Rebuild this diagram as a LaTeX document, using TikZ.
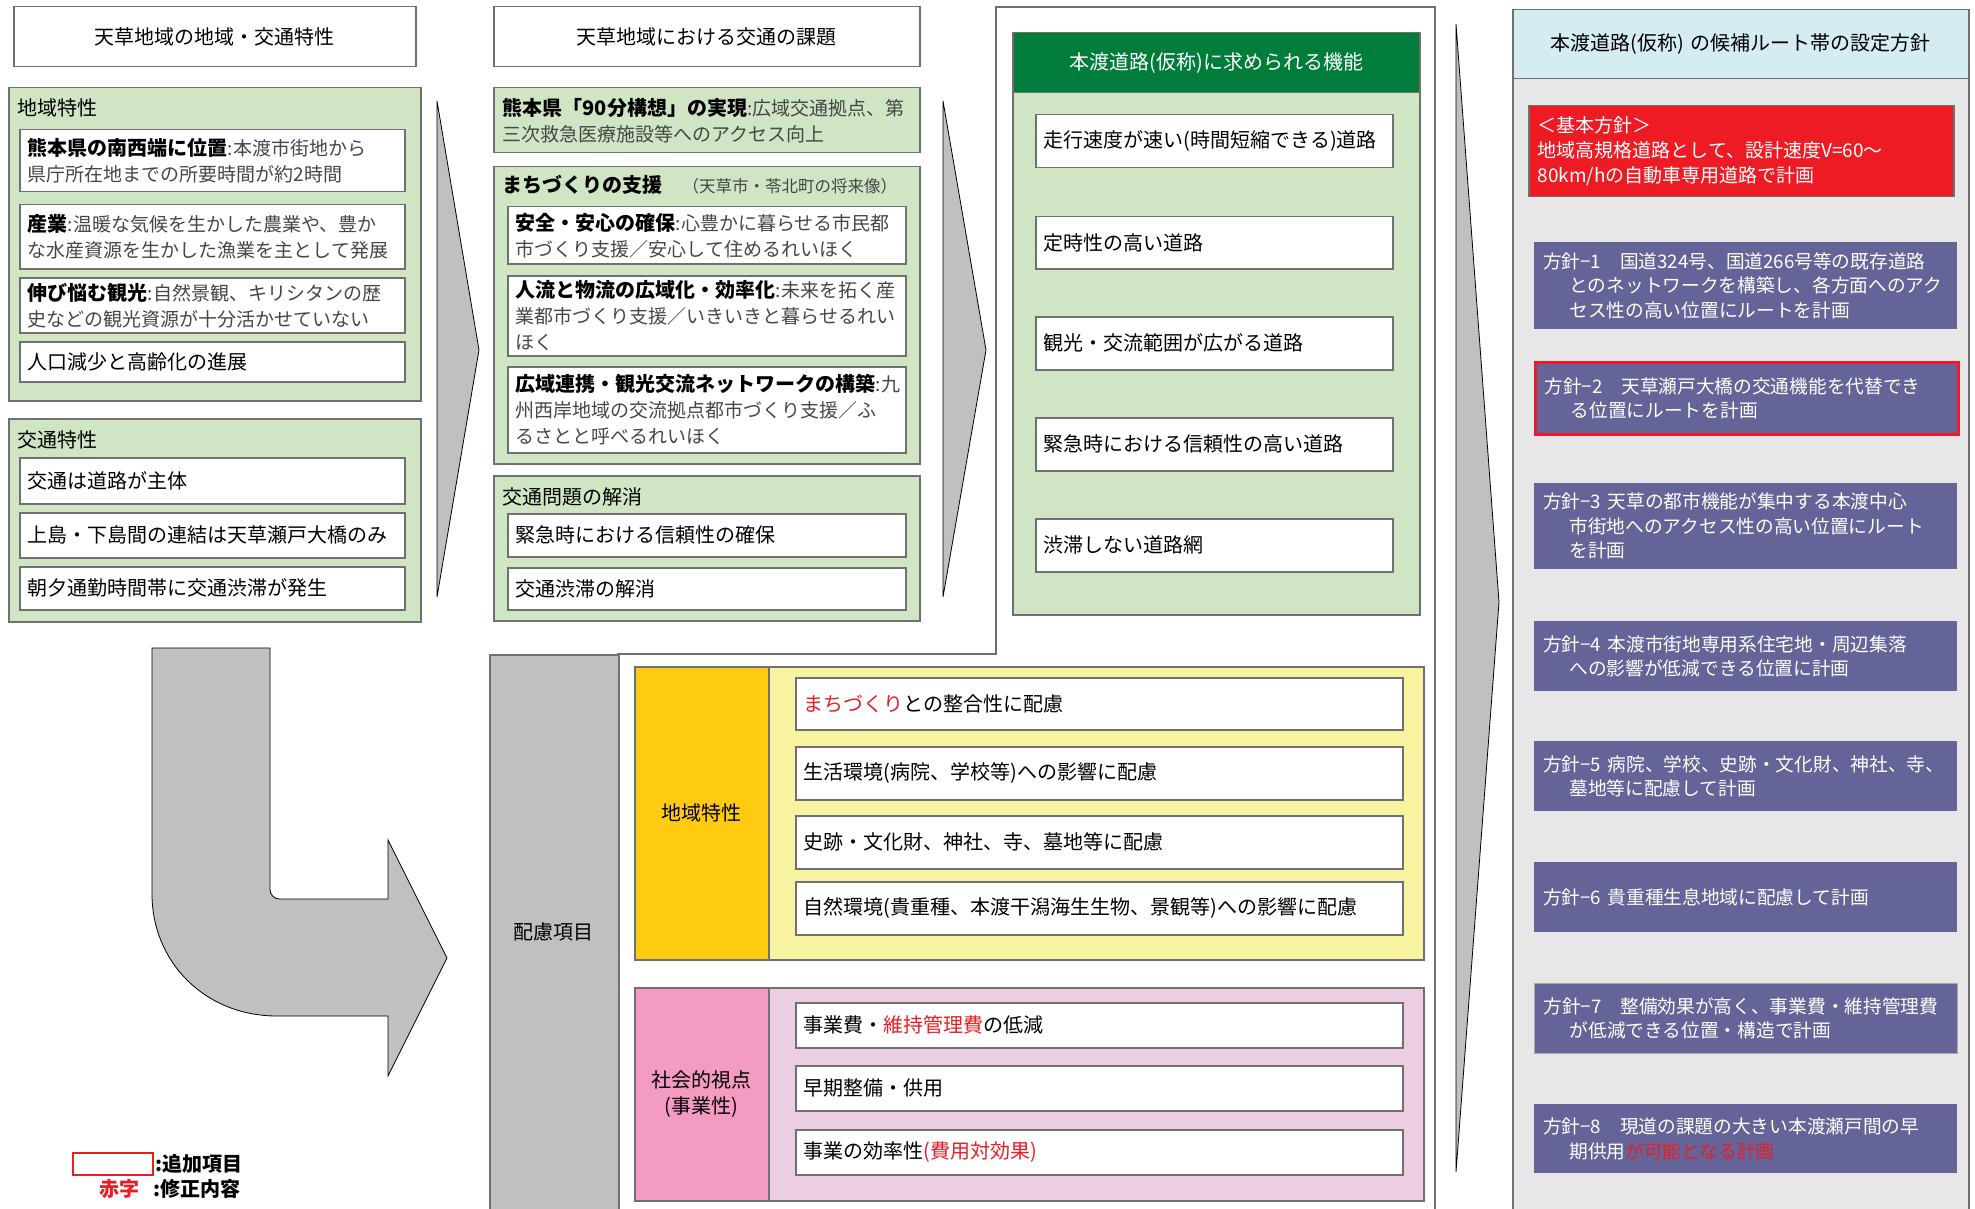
\documentclass[tikz,border=0pt]{standalone}
\usepackage{fontspec}
\setmainfont{Noto Sans CJK JP}
\usepackage{tikz}

\definecolor{boxgreen}{RGB}{208,229,196}
\definecolor{darkgreen}{RGB}{0,125,58}
\definecolor{edgegray}{RGB}{112,112,112}
\definecolor{arrowgray}{RGB}{192,192,192}
\definecolor{descgray}{RGB}{70,70,70}
\definecolor{orangeband}{RGB}{255,203,17}
\definecolor{paleyellow}{RGB}{248,243,161}
\definecolor{pinkband}{RGB}{243,155,194}
\definecolor{palepink}{RGB}{237,205,226}
\definecolor{paleblue}{RGB}{212,236,242}
\definecolor{panelgray}{RGB}{231,231,231}
\definecolor{policyblue}{RGB}{100,100,153}
\definecolor{alertred}{RGB}{237,28,36}

\newcommand{\desc}[1]{{\fontsize{19}{26}\selectfont\textcolor{descgray}{#1}}}
\newcommand{\redtext}[1]{\textcolor{alertred}{#1}}

\tikzset{
  base/.style={font=\fontsize{20}{26}\selectfont},
  cell/.style n args={3}{base, draw=edgegray, line width=1.5pt, fill=#3,
    anchor=north west, minimum width=#1, minimum height=#2,
    text width=#1-16, inner xsep=8pt, inner ysep=0pt, align=left},
  titlecell/.style n args={3}{cell={#1}{#2}{#3}, align=center},
  frame/.style n args={2}{draw=edgegray, line width=1.5pt, fill=#2,
    anchor=north west, minimum width=#1, inner sep=0pt},
  policy/.style n args={2}{font=\fontsize{18.7}{24.5}\selectfont, fill=policyblue,
    text=white, anchor=north west, minimum width=423, minimum height=#1,
    text width=405, inner xsep=9pt, inner ysep=0pt, align=left, #2},
  chevron/.style={draw=black, line width=0.8pt, fill=arrowgray}
}

\begin{document}
\begin{tikzpicture}[x=1pt,y=-1pt]
    \useasboundingbox (0,0) rectangle (1975,1209);

    % Draw left column
    \node[titlecell={402}{60}{white}] (leftTitle) at (13,6) {天草地域の地域・交通特性};
    \node[frame={412}{boxgreen}, minimum height=313] (regionFrame) at (8,87) {};
    \node[base, anchor=west] (regionLbl) at (14,108) {地域特性};
    \node[cell={385}{62}{white}] (regionA) at (19,129)
      {\textbf{熊本県の南西端に位置}\desc{:本渡市街地から}\\\desc{県庁所在地までの所要時間が約2時間}};
    \node[cell={385}{64}{white}] (regionB) at (19,204)
      {\textbf{産業}\desc{:温暖な気候を生かした農業や、豊か}\\\desc{な水産資源を生かした漁業を主として発展}};
    \node[cell={385}{55}{white}] (regionC) at (19,277)
      {\textbf{伸び悩む観光}\desc{:自然景観、キリシタンの歴}\\\desc{史などの観光資源が十分活かせていない}};
    \node[cell={385}{40}{white}] (regionD) at (19,341) {人口減少と高齢化の進展};

    \node[frame={412}{boxgreen}, minimum height=203] (trafficFrame) at (8,418) {};
    \node[base, anchor=west] (trafficLbl) at (14,440) {交通特性};
    \node[cell={385}{46}{white}] (trafficA) at (19,457) {交通は道路が主体};
    \node[cell={385}{45}{white}] (trafficB) at (19,512) {上島・下島間の連結は天草瀬戸大橋のみ};
    \node[cell={385}{43}{white}] (trafficC) at (19,566) {朝夕通勤時間帯に交通渋滞が発生};

    % Draw second column
    \node[titlecell={426}{60}{white}] (issueTitle) at (493,6) {天草地域における交通の課題};
    \node[cell={426}{65}{boxgreen}, inner xsep=9pt, text width=408] (issueA) at (493,87)
      {\textbf{熊本県「90分構想」の実現}\desc{:広域交通拠点、第}\\\desc{三次救急医療施設等へのアクセス向上}};
    \node[frame={426}{boxgreen}, minimum height=297] (townFrame) at (493,166) {};
    \node[base, anchor=west] (townLbl) at (499,185)
      {\textbf{まちづくりの支援}\quad{\fontsize{16.5}{20}\selectfont\textcolor{descgray}{（天草市・苓北町の将来像）}}};
    \node[cell={398}{57}{white}] (townA) at (507,206)
      {\textbf{安全・安心の確保}\desc{:心豊かに暮らせる市民都}\\\desc{市づくり支援／安心して住めるれいほく}};
    \node[cell={398}{80}{white}] (townB) at (507,275)
      {\textbf{人流と物流の広域化・効率化}\desc{:未来を拓く産}\\\desc{業都市づくり支援／いきいきと暮らせるれい}\\\desc{ほく}};
    \node[cell={398}{86}{white}] (townC) at (507,366)
      {\textbf{広域連携・観光交流ネットワークの構築}\desc{:九}\\\desc{州西岸地域の交流拠点都市づくり支援／ふ}\\\desc{るさとと呼べるれいほく}};

    \node[frame={426}{boxgreen}, minimum height=145] (jamFrame) at (493,475) {};
    \node[base, anchor=west] (jamLbl) at (499,497) {交通問題の解消};
    \node[cell={398}{43}{white}] (jamA) at (507,513) {緊急時における信頼性の確保};
    \node[cell={398}{42}{white}] (jamB) at (507,567) {交通渋滞の解消};

    % Draw chevrons between columns
    \draw[chevron] (437,101) -- (479,350) -- (437,597) -- cycle;
    \draw[chevron] (943,101) -- (986,350) -- (943,597) -- cycle;
    \draw[chevron] (1456,24) -- (1499,602) -- (1456,1172) -- cycle;

    % Draw required functions
    \draw[edgegray, line width=1.5pt] (618,1215) -- (618,654) -- (996,654) -- (996,7)
      -- (1435,7) -- (1435,1215);
    \node[frame={407}{boxgreen}, minimum height=582] (funcFrame) at (1012,32) {};
    \node[titlecell={407}{60}{darkgreen}, text=white] (funcTitle) at (1012,32)
      {本渡道路(仮称)に求められる機能};
    \node[cell={357}{53}{white}] (funcA) at (1035,114) {走行速度が速い(時間短縮できる)道路};
    \node[cell={357}{52}{white}] (funcB) at (1035,216) {定時性の高い道路};
    \node[cell={357}{53}{white}] (funcC) at (1035,316) {観光・交流範囲が広がる道路};
    \node[cell={357}{53}{white}] (funcD) at (1035,417) {緊急時における信頼性の高い道路};
    \node[cell={357}{53}{white}] (funcE) at (1035,518) {渋滞しない道路網};

    % Draw consideration items
    \node[frame={129}{arrowgray}, minimum height=570] (itemCol) at (489,654) {};
    \node[base] (itemLbl) at (553,932) {配慮項目};

    \node[frame={789}{paleyellow}, minimum height=293] (localFrame) at (634,666) {};
    \node[frame={134}{orangeband}, minimum height=293] (localBand) at (634,666) {};
    \node[base] (localLbl) at (localBand.center) {地域特性};
    \node[cell={607}{52}{white}] (localA) at (795,677) {\redtext{まちづくり}との整合性に配慮};
    \node[cell={607}{53}{white}] (localB) at (795,746) {生活環境(病院、学校等)への影響に配慮};
    \node[cell={607}{53}{white}] (localC) at (795,815) {史跡・文化財、神社、寺、墓地等に配慮};
    \node[cell={607}{53}{white}] (localD) at (795,881)
      {自然環境(貴重種、本渡干潟海生生物、景観等)への影響に配慮};

    \node[frame={789}{palepink}, minimum height=213] (socialFrame) at (634,987) {};
    \node[frame={134}{pinkband}, minimum height=213] (socialBand) at (634,987) {};
    \node[base, align=center] (socialLbl) at (socialBand.center) {社会的視点\\(事業性)};
    \node[cell={607}{45}{white}] (socialA) at (795,1002) {事業費・\redtext{維持管理費}の低減};
    \node[cell={607}{45}{white}] (socialB) at (795,1065) {早期整備・供用};
    \node[cell={607}{45}{white}] (socialC) at (795,1129) {事業の効率性\redtext{(費用対効果)}};

    % Draw route policies
    \node[frame={456}{panelgray}, minimum height=1140] (policyFrame) at (1512,78) {};
    \node[titlecell={456}{69}{paleblue}] (policyTitle) at (1512,9)
      {本渡道路(仮称)~の候補ルート帯の設定方針};
    \node[cell={425}{91}{alertred}, font=\fontsize{19}{25}\selectfont, text=white,
      inner xsep=9pt, text width=407] (basePolicy) at (1528,105)
      {＜基本方針＞\\地域高規格道路として、設計速度V=60～\\80km/hの自動車専用道路で計画};
    \node[policy={87}{}] (policy1) at (1534,242)
      {方針−1　国道324号、国道266号等の既存道路\\\hspace*{1.4em}とのネットワークを構築し、各方面へのアク\\\hspace*{1.4em}セス性の高い位置にルートを計画};
    \node[policy={72}{draw=alertred, line width=3pt}] (policy2) at (1534,361)
      {方針−2　天草瀬戸大橋の交通機能を代替でき\\\hspace*{1.4em}る位置にルートを計画};
    \node[policy={86}{}] (policy3) at (1534,483)
      {方針−3~天草の都市機能が集中する本渡中心\\\hspace*{1.4em}市街地へのアクセス性の高い位置にルート\\\hspace*{1.4em}を計画};
    \node[policy={70}{}] (policy4) at (1534,621)
      {方針−4~本渡市街地専用系住宅地・周辺集落\\\hspace*{1.4em}への影響が低減できる位置に計画};
    \node[policy={70}{}] (policy5) at (1534,741)
      {方針−5~病院、学校、史跡・文化財、神社、寺、\\\hspace*{1.4em}墓地等に配慮して計画};
    \node[policy={70}{}] (policy6) at (1534,862) {方針−6~貴重種生息地域に配慮して計画};
    \node[policy={70}{draw=edgegray!60, line width=1pt}] (policy7) at (1534,983)
      {方針−7　整備効果が高く、事業費・維持管理費\\\hspace*{1.4em}が低減できる位置・構造で計画};
    \node[policy={69}{}] (policy8) at (1534,1104)
      {方針−8　現道の課題の大きい本渡瀬戸間の早\\\hspace*{1.4em}期供用\redtext{が可能となる計画}};

    % Draw turning arrow
    \draw[chevron] (152,648) -- (270,648) -- (270,889) .. controls (270,895) and (274,899) .. (280,899)
      -- (388,899) -- (388,840) -- (447,958) -- (388,1076) -- (388,1016) -- (277,1016)
      .. controls (205,1016) and (152,962) .. (152,894) -- cycle;

    % Draw legend
    \node[draw=alertred, line width=2pt, anchor=north west, minimum width=80, minimum height=22,
      inner sep=0pt] (legendBox) at (72,1152) {};
    \node[base, anchor=west, inner xsep=1pt] (legendAdd) at (legendBox.east) {\textbf{:追加項目}};
    \node[base, anchor=west, inner sep=0pt] (legendRed) at (99,1189) {\textbf{\redtext{赤字}}};
    \node[base, anchor=west, inner xsep=1pt] (legendFix) at (152,1189) {\textbf{:修正内容}};
\end{tikzpicture}
\end{document}
